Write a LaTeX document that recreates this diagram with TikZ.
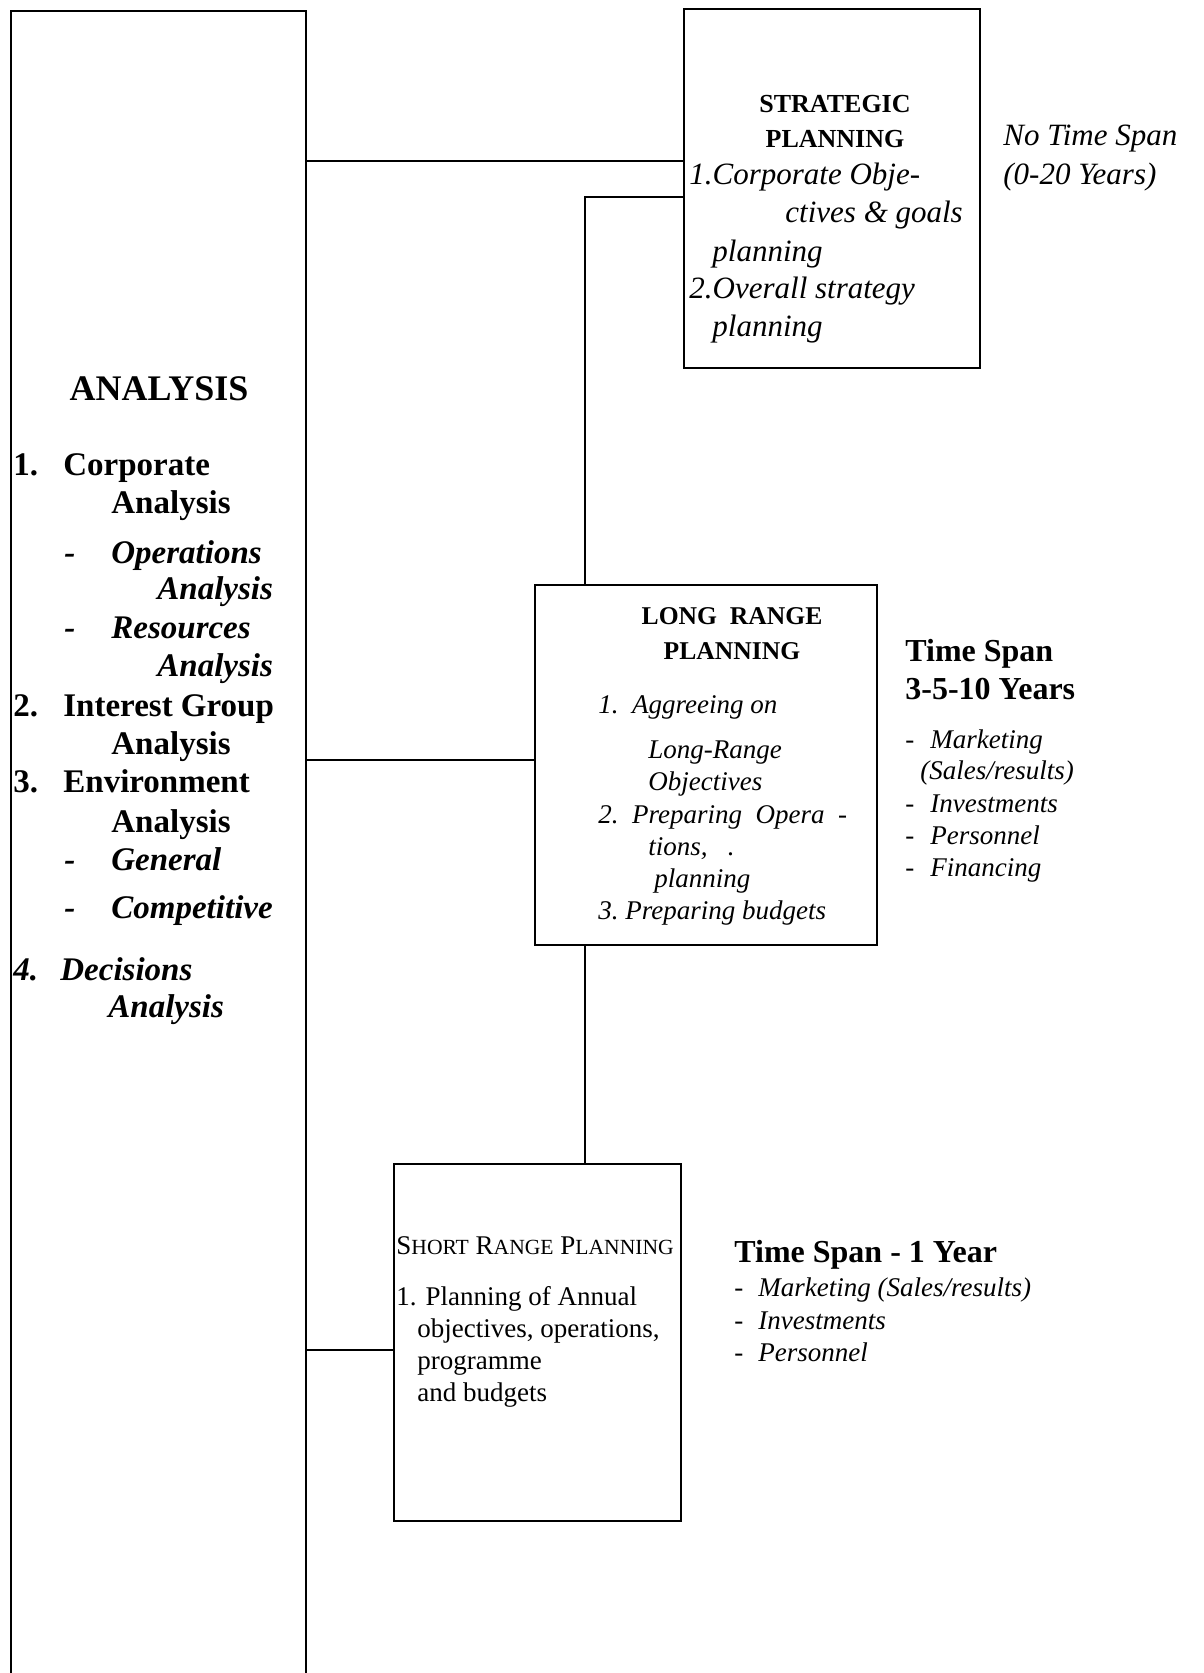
\documentclass[tikz,border=0pt]{standalone}
\usepackage{fontspec}
\setmainfont{Liberation Serif}
\usetikzlibrary{fit}

\newcommand\smc[1]{{\fontsize{10.8}{12}\selectfont #1}}

\tikzset{
  box/.style={draw, line width=0.8pt, inner sep=0pt},
  link/.style={line width=0.8pt},
  txt/.style={anchor=base west, inner sep=0pt},
  anahead/.style={anchor=base, inner sep=0pt, font=\fontsize{18}{20}\selectfont\bfseries},
  anabf/.style={txt, font=\fontsize{16.5}{19}\selectfont\bfseries},
  anait/.style={txt, font=\fontsize{16.5}{19}\selectfont\bfseries\itshape},
  strathead/.style={anchor=base, inner sep=0pt, font=\fontsize{13}{15}\selectfont\bfseries},
  lrhead/.style={anchor=base, inner sep=0pt, font=\fontsize{12.8}{15}\selectfont\bfseries},
  stratit/.style={txt, font=\fontsize{15.5}{18}\selectfont\itshape},
  lrit/.style={txt, font=\fontsize{13.5}{16}\selectfont\itshape},
  srtxt/.style={txt, font=\fontsize{13.5}{16}\selectfont},
  spanbf/.style={txt, font=\fontsize{16}{19}\selectfont\bfseries},
}

\begin{document}
\begin{tikzpicture}[x=0.5pt, y=-0.5pt]
\useasboundingbox (0,0) rectangle (1203,1673);
\clip (0,0) rectangle (1203,1673);
% boxes
\node (analysis) [box, fit={(11,11) (306,1700)}] {};
\node (strat) [box, fit={(684,9) (980,368)}] {};
\node (long) [box, fit={(535,585) (877,945)}] {};
\node (short) [box, fit={(394,1164) (681,1521)}] {};
% connectors
\coordinate (bend) at (585,197);
\draw[link] (analysis.east |- 0,161) -- (strat.west |- 0,161);
\draw[link] (strat.west |- bend) -| (long.north -| bend);
\draw[link] (long.south -| bend) -- (short.north -| bend);
\draw[link] (analysis.east |- 0,760) -- (long.west |- 0,760);
\draw[link] (analysis.east |- 0,1350) -- (short.west |- 0,1350);
% analysis column
\node (a0) [anahead] at (159,401) {ANALYSIS};
\node (a1n) [anabf] at (13,476) {1.};
\node (a1) [anabf] at (63,476) {Corporate};
\node (a1b) [anabf] at (111,514) {Analysis};
\node (a1c) [anait] at (64,563) {-};
\node (a1d) [anait] at (111,563) {Operations};
\node (a1e) [anait] at (157,599) {Analysis};
\node (a1f) [anait] at (64,638) {-};
\node (a1g) [anait] at (111,638) {Resources};
\node (a1h) [anait] at (157,676) {Analysis};
\node (a2n) [anabf] at (13,716) {2.};
\node (a2) [anabf] at (63,716) {Interest Group};
\node (a2b) [anabf] at (111,754) {Analysis};
\node (a3n) [anabf] at (13,792) {3.};
\node (a3) [anabf] at (63,792) {Environment};
\node (a3b) [anabf] at (111,832) {Analysis};
\node (a3c) [anait] at (64,870) {-};
\node (a3d) [anait] at (111,870) {General};
\node (a3e) [anait] at (64,918) {-};
\node (a3f) [anait] at (111,918) {Competitive};
\node (a4n) [anait] at (13,980) {4.};
\node (a4) [anait] at (60,980) {Decisions};
\node (a4b) [anait] at (108,1017) {Analysis};
% strategic planning
\node (s0) [strathead] at (835,113) {STRATEGIC};
\node (s1) [strathead] at (835,148) {PLANNING};
\node (s2) [stratit] at (689,185) {1.Corporate Obje-};
\node (s3) [stratit] at (785,223) {ctives \& goals};
\node (s4) [stratit] at (712,262) {planning};
\node (s5) [stratit] at (689,299) {2.Overall strategy};
\node (s6) [stratit] at (712,337) {planning};
\node (ns0) [stratit] at (1003,146) {No Time Span};
\node (ns1) [stratit] at (1003,185) {(0-20 Years)};
% long range planning
\node (l0) [lrhead] at (732,624) {LONG\ \ RANGE};
\node (l1) [lrhead] at (732,659) {PLANNING};
\node (l2) [lrit] at (598,713) {1.\ \ Aggreeing on};
\node (l3) [lrit] at (648,758) {Long-Range};
\node (l4) [lrit] at (648,790) {Objectives};
\node (l5) [lrit] at (598,823) {2.\ \ Preparing\ \ Opera\ \ -};
\node (l6) [lrit] at (648,855) {tions,\ \ \ .};
\node (l7) [lrit] at (654,887) {planning};
\node (l8) [lrit] at (598,919) {3.\ Preparing budgets};
\node (ls0) [spanbf] at (905,661) {Time Span};
\node (ls1) [spanbf] at (905,699) {3-5-10 Years};
\node (ls2) [lrit] at (905,748) {-\hspace{8pt}Marketing};
\node (ls3) [lrit] at (920,779) {(Sales/results)};
\node (ls4) [lrit] at (905,812) {-\hspace{8pt}Investments};
\node (ls5) [lrit] at (905,844) {-\hspace{8pt}Personnel};
\node (ls6) [lrit] at (905,876) {-\hspace{8pt}Financing};
% short range planning
\node (r0) [srtxt] at (396,1254) {S\smc{HORT} R\smc{ANGE} P\smc{LANNING}};
\node (r1) [srtxt] at (396,1305) {1. Planning of Annual};
\node (r2) [srtxt] at (417,1337) {objectives, operations,};
\node (r3) [srtxt] at (417,1369) {programme};
\node (r4) [srtxt] at (417,1401) {and budgets};
\node (rs0) [spanbf] at (734,1262) {Time Span - 1 Year};
\node (rs1) [lrit] at (734,1296) {-\hspace{7.5pt}Marketing (Sales/results)};
\node (rs2) [lrit] at (734,1329) {-\hspace{7.5pt}Investments};
\node (rs3) [lrit] at (734,1361) {-\hspace{7.5pt}Personnel};
\end{tikzpicture}
\end{document}
